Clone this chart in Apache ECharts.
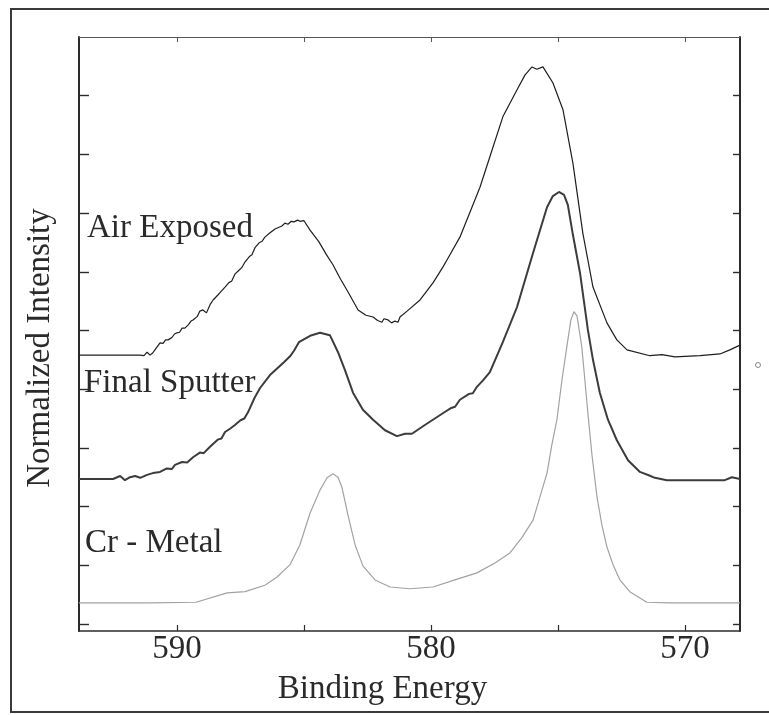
<!DOCTYPE html>
<html>
<head>
<meta charset="utf-8">
<script src="https://cdn.jsdelivr.net/npm/echarts@6/dist/echarts.min.js"></script>
<style>
html,body{margin:0;padding:0;background:#fff;}
#chart{width:769px;height:715px;}
</style>
</head>
<body>
<div id="chart"></div>
<script>
// Binding energy (eV) and normalized intensity (offset, arbitrary units)
const airBE = [593.86,591.46,591.30,591.18,591.06,590.95,590.87,590.67,590.55,590.45,590.35,590.20,590.10,590.00,589.90,589.80,589.69,589.55,589.45,589.37,589.20,589.10,588.98,588.84,588.70,588.58,588.40,588.30,588.11,587.95,587.85,587.72,587.55,587.45,587.32,587.15,587.05,586.93,586.75,586.65,586.54,586.35,586.14,585.87,585.75,585.63,585.50,585.39,585.25,585.16,585.00,584.76,584.41,584.13,583.86,583.58,583.27,582.87,582.56,582.28,582.10,581.93,581.85,581.69,581.55,581.42,581.30,581.22,580.94,580.43,579.92,579.53,579.37,578.86,578.46,578.07,577.68,577.17,576.61,576.30,576.02,575.83,575.59,575.20,574.80,574.41,574.02,573.62,573.07,572.68,572.28,571.38,570.90,570.39,569.41,568.62,568.23,567.83];
const airI  = [4.58,4.58,4.57,4.63,4.58,4.62,4.67,4.79,4.78,4.84,4.84,4.88,4.94,4.96,4.97,5.04,5.04,5.10,5.16,5.18,5.24,5.33,5.35,5.30,5.44,5.52,5.60,5.65,5.74,5.82,5.84,5.96,6.03,6.07,6.17,6.26,6.29,6.41,6.50,6.52,6.59,6.66,6.73,6.78,6.83,6.81,6.86,6.85,6.88,6.86,6.87,6.71,6.51,6.30,6.12,5.89,5.66,5.35,5.26,5.23,5.17,5.14,5.20,5.18,5.13,5.16,5.14,5.23,5.33,5.52,5.81,6.08,6.20,6.59,7.02,7.44,7.96,8.64,9.10,9.35,9.49,9.45,9.49,9.22,8.76,7.85,6.66,5.74,5.13,4.84,4.67,4.57,4.59,4.55,4.57,4.60,4.67,4.75];

const sputBE = [593.86,592.52,592.24,592.05,591.85,591.65,591.45,591.18,590.95,590.67,590.40,590.20,590.08,589.80,589.60,589.37,589.10,588.95,588.70,588.40,588.25,588.11,587.90,587.72,587.50,587.35,587.20,586.95,586.73,586.34,585.79,585.55,585.40,585.20,584.76,584.37,583.98,583.66,583.39,583.07,582.68,582.28,581.81,581.34,581.02,580.75,580.24,579.53,579.20,579.05,578.86,578.50,578.35,578.19,577.95,577.68,577.17,576.61,575.98,575.43,575.20,574.96,574.76,574.61,574.41,574.13,573.82,573.62,573.35,573.03,572.68,572.24,571.77,571.40,571.18,570.71,569.41,568.43,568.15,567.83];
const sputI  = [2.47,2.47,2.52,2.45,2.50,2.52,2.49,2.54,2.57,2.59,2.65,2.64,2.71,2.76,2.75,2.84,2.92,2.91,3.02,3.14,3.16,3.27,3.33,3.39,3.47,3.50,3.61,3.85,4.02,4.24,4.46,4.56,4.65,4.80,4.91,4.96,4.92,4.63,4.33,3.94,3.65,3.48,3.30,3.20,3.24,3.24,3.39,3.59,3.68,3.70,3.82,3.92,3.93,4.04,4.15,4.29,4.80,5.40,6.32,7.10,7.29,7.36,7.31,7.14,6.63,5.98,5.01,4.50,3.94,3.48,3.13,2.79,2.59,2.53,2.49,2.45,2.45,2.45,2.50,2.47];

const crBE = [593.86,591.06,589.25,588.03,587.32,586.54,586.06,585.55,585.16,584.76,584.37,584.09,583.86,583.66,583.50,583.27,582.99,582.68,582.20,581.61,580.83,579.92,579.06,578.19,577.48,576.89,576.42,575.98,575.71,575.43,575.24,575.04,574.84,574.65,574.49,574.37,574.25,574.13,574.06,573.94,573.82,573.66,573.46,573.27,573.07,572.83,572.56,572.17,571.50,570.59,567.83];
const crI  = [0.36,0.36,0.37,0.53,0.55,0.66,0.80,1.01,1.35,1.89,2.28,2.49,2.56,2.50,2.32,1.86,1.35,0.99,0.75,0.63,0.60,0.63,0.75,0.87,1.04,1.21,1.47,1.77,2.16,2.57,3.05,3.48,4.16,4.72,5.18,5.32,5.25,4.92,4.72,4.16,3.59,2.88,2.16,1.69,1.31,1.01,0.75,0.55,0.37,0.36,0.36];

const xTicks = [570,575,580,585,590];
const xLabels = [570,580,590];
const yTicks = [0,1,2,3,4,5,6,7,8,9];

const seriesNames = ['Air Exposed','Final Sputter','Cr - Metal'];

function pairs(xs, ys){ return xs.map((x,i)=>[x, ys[i]]); }

const FONT = '"Liberation Serif","DejaVu Serif",serif';
const chart = echarts.init(document.getElementById('chart'), null, {renderer:'canvas'});

const xCommon = {
  type:'value', min:567.83, max:593.86, inverse:true,
  splitLine:{show:false}
};
const yCommon = {
  type:'value', min:-0.12, max:10.0,
  splitLine:{show:false},
  axisLabel:{show:false},
  axisLine:{show:true, onZero:false, lineStyle:{color:'#2b2b2b', width:2}}
};

chart.setOption({
  animation:false,
  backgroundColor:'#ffffff',
  grid:{left:79, right:29, top:37, bottom:84, containLabel:false},
  xAxis:[
    Object.assign({}, xCommon, {
      position:'bottom',
      axisLine:{show:true, onZero:false, lineStyle:{color:'#2b2b2b', width:1.6}},
      name:'Binding Energy', nameLocation:'middle', nameGap:42, nameMoveOverlap:false,
      nameTextStyle:{fontFamily:FONT, fontSize:33, color:'#2a2a2a', padding:[0,54,0,0]},
      axisTick:{show:true, inside:true, length:6, customValues:xTicks, lineStyle:{color:'#2b2b2b', width:1.2}},
      axisLabel:{show:true, customValues:xLabels, margin:2, fontFamily:FONT, fontSize:33, color:'#2a2a2a'}
    }),
    Object.assign({}, xCommon, {
      position:'top',
      axisLine:{show:true, onZero:false, lineStyle:{color:'#555', width:1.2}},
      axisTick:{show:true, inside:true, length:5, customValues:xTicks, lineStyle:{color:'#555', width:1}},
      axisLabel:{show:false}
    })
  ],
  yAxis:[
    Object.assign({}, yCommon, {
      position:'left',
      name:'Normalized Intensity', nameLocation:'middle', nameGap:22, nameMoveOverlap:false,
      nameTextStyle:{fontFamily:FONT, fontSize:33, color:'#2a2a2a', padding:[0,28,0,0]},
      axisTick:{show:true, inside:true, length:10, customValues:yTicks, lineStyle:{color:'#2b2b2b', width:1.4}}
    }),
    Object.assign({}, yCommon, {
      position:'right',
      axisTick:{show:true, inside:true, length:7, customValues:yTicks, lineStyle:{color:'#2b2b2b', width:1.4}}
    })
  ],
  series:[
    {name:seriesNames[0], type:'line', data:pairs(airBE, airI), showSymbol:false, symbol:'none',
     lineStyle:{color:'#1e1e1e', width:1.2}, xAxisIndex:0, yAxisIndex:0, z:3},
    {name:seriesNames[1], type:'line', data:pairs(sputBE, sputI), showSymbol:false, symbol:'none',
     lineStyle:{color:'#3c3c3c', width:2}, xAxisIndex:0, yAxisIndex:0, z:3},
    {name:seriesNames[2], type:'line', data:pairs(crBE, crI), showSymbol:false, symbol:'none',
     lineStyle:{color:'#a2a2a2', width:1.2}, xAxisIndex:0, yAxisIndex:0, z:2}
  ],
  graphic:[
    {type:'rect', shape:{x:11, y:9, width:780, height:703}, style:{fill:'none', stroke:'#3a3a3a', lineWidth:2}, z:0, silent:true},
    {type:'circle', shape:{cx:758, cy:365, r:2.5}, style:{fill:'none', stroke:'#888', lineWidth:1}, silent:true},
    {type:'text', x:87, y:228, style:{text:seriesNames[0], font:'33px ' + FONT, fill:'#2a2a2a', verticalAlign:'middle', align:'left'}, z:10},
    {type:'text', x:84, y:383, style:{text:seriesNames[1], font:'33px ' + FONT, fill:'#2a2a2a', verticalAlign:'middle', align:'left'}, z:10},
    {type:'text', x:85, y:543, style:{text:seriesNames[2], font:'33px ' + FONT, fill:'#2a2a2a', verticalAlign:'middle', align:'left'}, z:10}
  ]
});
</script>
</body>
</html>
